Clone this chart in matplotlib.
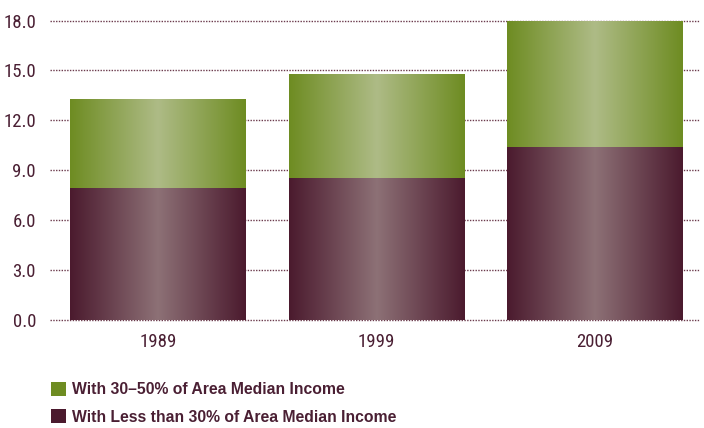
import numpy as np
import matplotlib
matplotlib.use("Agg")
import matplotlib.pyplot as plt
from matplotlib.colors import LinearSegmentedColormap
from matplotlib.patches import Patch

years = ["1989", "1999", "2009"]
below_30 = [7.9, 8.5, 10.4]
from_30_to_50 = [5.4, 6.3, 7.6]
legend_labels = ["With 30\u201350% of Area Median Income",
                 "With Less than 30% of Area Median Income"]
yticks = [0, 3, 6, 9, 12, 15, 18]

maroon = "#4b1a2e"
maroon_light = "#8d7176"
green = "#6e8c22"
green_light = "#aebb86"
text_col = "#4a1f33"

plt.rcParams["font.family"] = ["Roboto Condensed", "DejaVu Sans"]

fig = plt.figure(figsize=(7.04, 4.28), dpi=100)
ax = fig.add_axes([50 / 704, 0.2535, 650 / 704, (428 - 19.7) / 428 - 0.2535])

x = np.arange(len(years))
width = 0.805
b1 = ax.bar(x, below_30, width, color=maroon, zorder=2)
b2 = ax.bar(x, from_30_to_50, width, bottom=below_30, color=green, zorder=2)

# horizontal gradient, dark at the edges, light in the middle
grad = 1 - np.abs(np.linspace(-1, 1, 256))[None, :]
for bars, c0, c1 in [(b1, maroon, maroon_light), (b2, green, green_light)]:
    cmap = LinearSegmentedColormap.from_list("g", [c0, c1])
    for p in bars:
        x0, y0 = p.get_x(), p.get_y()
        im = ax.imshow(grad, cmap=cmap, aspect="auto", vmin=0, vmax=1,
                       extent=(x0, x0 + p.get_width(), y0, y0 + p.get_height()),
                       zorder=3, interpolation="bilinear")
        im.set_clip_path(p)

ax.set_xlim(-0.494, 2.48)
ax.set_ylim(0, 18.05)
ax.set_yticks(yticks)
ax.set_yticklabels([f"{v:.1f}" for v in yticks])
ax.set_xticks(x)
ax.set_xticklabels(years)
ax.tick_params(axis="both", length=0, colors=text_col, labelsize=13.5)
ax.tick_params(axis="y", pad=10)
ax.tick_params(axis="x", pad=9.5)
for s in ax.spines.values():
    s.set_visible(False)
ax.yaxis.grid(True, linestyle=(0, (1, 1)), color="#6b3a4c", linewidth=1, zorder=0)
for gl in ax.get_ygridlines():
    gl.set_clip_on(False)
ax.set_axisbelow(True)

handles = [Patch(facecolor=green), Patch(facecolor=maroon)]
fig.legend(handles, legend_labels, loc="upper left", bbox_to_anchor=(51 / 704, 1 - 382 / 428),
           frameon=False, handlelength=0.95, handleheight=0.95, handletextpad=0.4,
           labelspacing=0.78, borderpad=0, borderaxespad=0,
           prop={"family": ["Liberation Sans", "DejaVu Sans"], "weight": "bold", "size": 11.3},
           labelcolor=text_col)

fig.savefig("out.png", dpi=100)
